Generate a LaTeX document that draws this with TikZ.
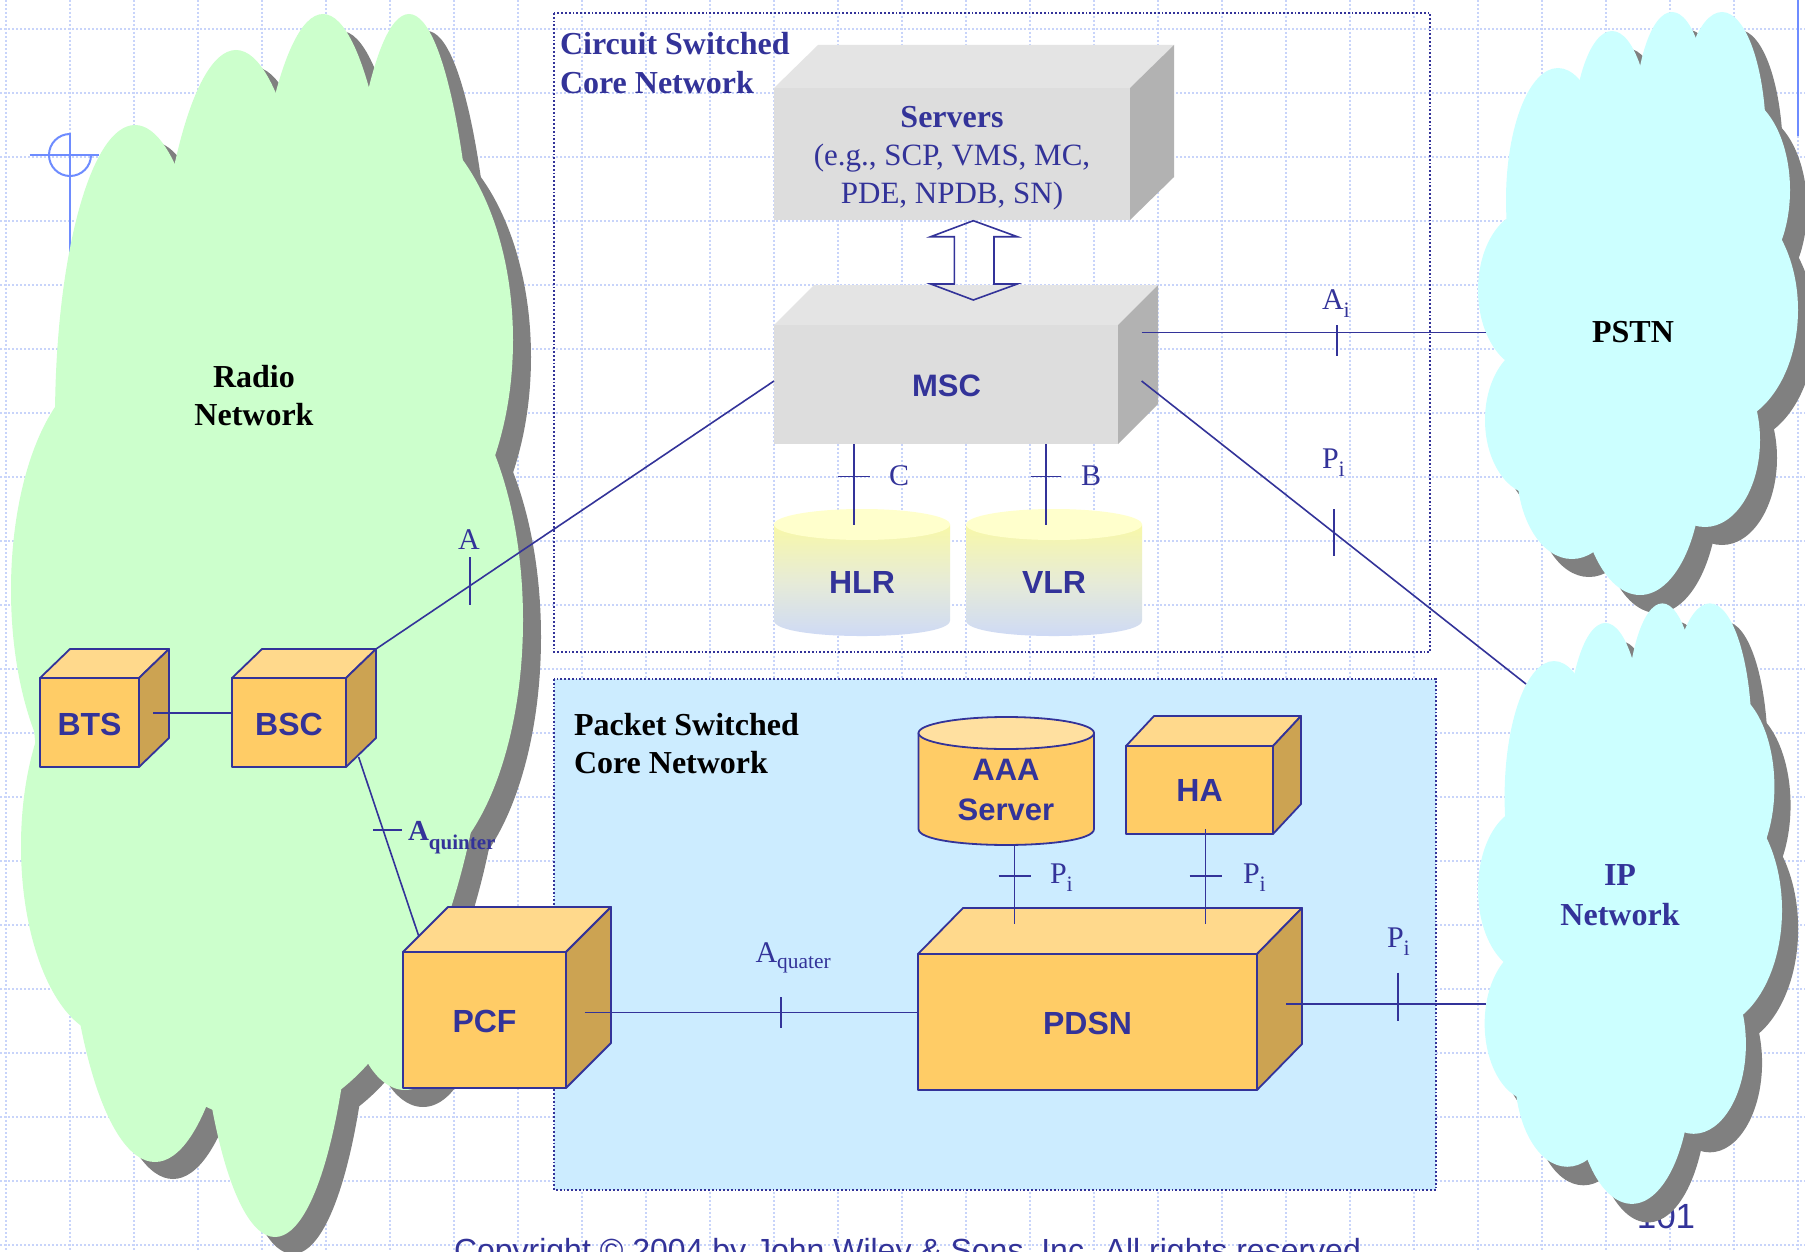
\documentclass[tikz,border=0pt]{standalone}
\usepackage{fontspec}
\setmainfont{Liberation Serif}
\newfontfamily\arialf{Liberation Sans}
\definecolor{dblue}{HTML}{333399}
\definecolor{gridc}{RGB}{200,212,250}
\definecolor{tmpl}{RGB}{110,140,255}
\definecolor{cgreen}{HTML}{CCFFCC}
\definecolor{ccyan}{HTML}{CCFFFF}
\definecolor{shgray}{HTML}{808080}
\definecolor{pkfill}{HTML}{CCECFF}
\definecolor{orfront}{HTML}{FFCC66}
\definecolor{ortop}{HTML}{FFD98C}
\definecolor{orside}{HTML}{CCA352}
\definecolor{grfront}{HTML}{DDDDDD}
\definecolor{grtop}{HTML}{E4E4E4}
\definecolor{grside}{HTML}{B2B2B2}
\definecolor{cyltop}{HTML}{FFFFCC}
\definecolor{cylyel}{HTML}{F8F8A8}
\definecolor{cylmid}{HTML}{E6EBD8}
\definecolor{cylblu}{HTML}{CCD8F8}
\definecolor{aaatop}{HTML}{FFE0A0}
\newcommand\mysub[1]{\raisebox{-4pt}{\fontsize{11}{12}\selectfont #1}}
\newcommand\mycube[8]{%
 \filldraw[#8, fill=#7top] (#1,#2) -- ({#1+#5},{#2+#6}) -- ({#3+#5},{#2+#6}) -- (#3,#2) -- cycle;
 \filldraw[#8, fill=#7side] (#3,#2) -- ({#3+#5},{#2+#6}) -- ({#3+#5},{#4+#6}) -- (#3,#4) -- cycle;
 \filldraw[#8, fill=#7front] (#1,#2) rectangle (#3,#4);}
\newcommand\greenblobs[1]{%
 \fill[#1] (135,420) ellipse (80 and 295);
 \fill[#1] (236,420) ellipse (85 and 370);
 \fill[#1] (323,420) ellipse (80 and 406);
 \fill[#1] (409,420) ellipse (70 and 406);
 \fill[#1] (380,340) ellipse (133 and 230);
 \fill[#1] (400,620) ellipse (123 and 260);
 \fill[#1] (405,975) ellipse (58 and 115);
 \fill[#1] (275,900) ellipse (80 and 337);
 \fill[#1] (155,850) ellipse (90 and 312);
 \fill[#1] (110,846) ellipse (89 and 190);
 \fill[#1] (110,590) ellipse (99 and 220);
 \fill[#1] (260,640) ellipse (230 and 480);}
\newcommand\pstnblobs[1]{%
 \fill[#1] (1558,200) ellipse (52 and 132);
 \fill[#1] (1612,150) ellipse (40 and 119);
 \fill[#1] (1672,130) ellipse (38 and 118);
 \fill[#1] (1722,140) ellipse (44 and 128);
 \fill[#1] (1735,190) ellipse (55 and 95);
 \fill[#1] (1720,310) ellipse (78 and 115);
 \fill[#1] (1705,440) ellipse (55 and 87);
 \fill[#1] (1640,470) ellipse (62 and 125);
 \fill[#1] (1572,470) ellipse (55 and 89);
 \fill[#1] (1535,420) ellipse (50 and 75);
 \fill[#1] (1530,290) ellipse (52 and 80);
 \fill[#1] (1640,300) ellipse (120 and 220);}
\begin{document}
\begin{tikzpicture}[x=0.5pt,y=-0.5pt,
  gridline/.style={draw=gridc, line width=0.6pt, dash pattern=on 1.2pt off 0.8pt},
  conn/.style={draw=dblue, line width=0.8pt},
  boxline/.style={draw=dblue, line width=0.9pt, line join=round},
  nobox/.style={draw=none},
  lbl/.style={inner sep=0pt, outer sep=0pt},
  boxtxt/.style={lbl, anchor=base, text=dblue, font=\arialf\bfseries\fontsize{16}{19}\selectfont},
  ttl/.style={lbl, font=\bfseries\fontsize{16}{19}\selectfont},
  ifc/.style={lbl, anchor=base west, text=dblue, font=\fontsize{15}{18}\selectfont},
  tmplline/.style={draw=tmpl, line width=1pt}
]
\useasboundingbox (0,0) rectangle (1805,1252);
\clip (0,0) rectangle (1805,1252);
\fill[white] (0,0) rectangle (1805,1252);
% grid
\foreach \i in {0,...,28} \draw[gridline] ({6+64*\i},0) -- ({6+64*\i},1252);
\foreach \j in {0,...,19} \draw[gridline] (0,{29+64*\j}) -- (1805,{29+64*\j});
% template marks
\draw[tmplline] (29.5,155) -- (99,155);
\draw[tmplline] (70,133) -- (70,400);
\draw[tmplline] (70,134) .. controls (58.4,134) and (49,143.4) .. (49,155)
  .. controls (49,166.6) and (58.4,176) .. (70,176)
  .. controls (81.6,176) and (91,166.6) .. (91,155);
\draw[tmplline] (1798,0) -- (1798,136);
% core network frames
\filldraw[fill=pkfill, draw=dblue, line width=0.9pt, densely dotted] (554,679) rectangle (1436,1190);
\draw[draw=dblue, line width=0.9pt, densely dotted] (554,13) rectangle (1430,652);
% footer
\node[lbl, anchor=base west, text=dblue, font=\arialf\fontsize{16}{19}\selectfont] (copy) at (454,1261) {Copyright \textcopyright{} 2004 by John Wiley \& Sons, Inc. All rights reserved.};
\node[lbl, anchor=base, text=dblue, font=\arialf\fontsize{17.5}{20}\selectfont] (pnum) at (1666,1228) {101};
% clouds
\begin{scope}[shift={(18,17)}] \greenblobs{shgray} \end{scope}
\greenblobs{cgreen}
\begin{scope}[shift={(17,18)}] \pstnblobs{shgray} \end{scope}
\pstnblobs{ccyan}
\begin{scope}[shift={(1478,900)}, xscale=0.95, yscale=1.03, shift={(-1478,-300)}]
  \begin{scope}[shift={(17,18)}] \pstnblobs{shgray} \end{scope}
  \pstnblobs{ccyan}
\end{scope}
\node[ttl, anchor=base] (radio1) at (254,387) {Radio};
\node[ttl, anchor=base] (radio2) at (254,425) {Network};
\node[ttl, anchor=base] (pstn) at (1633,342) {PSTN};
\node[ttl, anchor=base, text=dblue] (ip1) at (1620,885) {IP};
\node[ttl, anchor=base, text=dblue] (ip2) at (1620,925) {Network};
% frame titles
\node[ttl, anchor=base west, text=dblue] (cs1) at (560,55) {Circuit Switched};
\node[ttl, anchor=base west, text=dblue] (cs2) at (560,94) {Core Network};
\node[ttl, anchor=base west] (ps1) at (574,735.5) {Packet Switched};
\node[ttl, anchor=base west] (ps2) at (574,773) {Core Network};
% grey boxes
\mycube{774}{88}{1130}{220}{44}{-43}{gr}{nobox}
\mycube{774}{325}{1118}{444}{40}{-40}{gr}{nobox}
% HLR / VLR
\shade[top color=cylyel, bottom color=cylblu, middle color=cylmid] (774,524.5) -- (774,620.5) .. controls (774,641.2) and (950,641.2) .. (950,620.5) -- (950,524.5) -- cycle;
\fill[cyltop] (862,524.5) ellipse (88 and 15.5);
\shade[top color=cylyel, bottom color=cylblu, middle color=cylmid] (966,524.5) -- (966,620.5) .. controls (966,641.2) and (1142,641.2) .. (1142,620.5) -- (1142,524.5) -- cycle;
\fill[cyltop] (1054,524.5) ellipse (88 and 15.5);
% orange boxes
\mycube{40}{678}{139}{767}{30}{-29}{or}{boxline}
\mycube{232}{678}{346}{767}{30}{-29}{or}{boxline}
\mycube{403}{952}{566}{1088}{45}{-45}{or}{boxline}
\mycube{918}{954}{1257}{1090}{45}{-46}{or}{boxline}
\mycube{1126}{746}{1273}{834}{28}{-30}{or}{boxline}
% AAA cylinder
\filldraw[boxline, fill=orfront] (918.5,733) -- (918.5,829) .. controls (918.5,850.3) and (1094,850.3) .. (1094,829) -- (1094,733) -- cycle;
\filldraw[boxline, fill=aaatop] (1006.25,733) ellipse (87.75 and 16);
% double arrow servers <-> MSC
\coordinate (arrTop) at (973.3,220.7);
\coordinate (arrBot) at (973.3,300);
\draw[conn, line join=miter] (arrTop) -- ++(44,16) -- ++(-23.3,0) -- ++(0,47.3) -- ++(23.3,0) -- (arrBot)
  -- ++(-42.6,-16) -- ++(23.6,0) -- ++(0,-47.3) -- ++(-23.6,0) -- cycle;
% box texts
\node[boxtxt] (srv1) at (952,127) {\fontspec{Liberation Serif}\bfseries Servers};
\node[lbl, anchor=base, text=dblue, font=\fontsize{15.5}{18}\selectfont] (srv2) at (952,166) {(e.g., SCP, VMS, MC,};
\node[lbl, anchor=base, text=dblue, font=\fontsize{15.5}{18}\selectfont] (srv3) at (952,204) {PDE, NPDB, SN)};
\node[boxtxt, font=\arialf\bfseries\fontsize{15.5}{18}\selectfont] (msc) at (946.5,396.5) {MSC};
\node[boxtxt] (hlr) at (862,593.4) {HLR};
\node[boxtxt] (vlr) at (1054,593.4) {VLR};
\node[boxtxt] (bts) at (89.5,735) {BTS};
\node[boxtxt] (bsc) at (289,735) {BSC};
\node[boxtxt] (pcf) at (484.5,1032) {PCF};
\node[boxtxt] (pdsn) at (1087.5,1034) {PDSN};
\node[boxtxt] (ha) at (1199.5,801.6) {HA};
\node[boxtxt, font=\arialf\bfseries\fontsize{15.5}{18}\selectfont] (aaa1) at (1006,780) {AAA};
\node[boxtxt, font=\arialf\bfseries\fontsize{15.5}{18}\selectfont] (aaa2) at (1006,820) {Server};
% connector end points
\coordinate (btsR) at (153,713);
\coordinate (bscL) at (232,713);
\coordinate (bscTR) at (376,649);
\coordinate (mscL) at (774,381);
\coordinate (bscR) at (358.6,757);
\coordinate (pcfT) at (418.7,936);
\coordinate (pcfR) at (584.6,1012.5);
\coordinate (pdsnL) at (918,1012.5);
\coordinate (mscB1) at (854,444);
\coordinate (hlrT) at (854,524.5);
\coordinate (mscB2) at (1046,444);
\coordinate (vlrT) at (1046,524.5);
\coordinate (mscR1) at (1141.6,332.5);
\coordinate (pstnL) at (1486,332.5);
\coordinate (mscR2) at (1141.6,381);
\coordinate (ipL) at (1526,684);
\coordinate (aaaB) at (1014.6,845);
\coordinate (pdsnT1) at (1014.6,924);
\coordinate (haB) at (1205.6,829);
\coordinate (pdsnT2) at (1205.6,924);
\coordinate (pdsnR) at (1286,1004);
\coordinate (ipL2) at (1486,1004);
% connectors
\draw[conn] (btsR) -- (bscL);
\draw[conn] (bscTR) -- (mscL);
\draw[conn] (bscR) -- (pcfT);
\draw[conn] (pcfR) -- (pdsnL);
\draw[conn] (mscB1) -- (hlrT);
\draw[conn] (mscB2) -- (vlrT);
\draw[conn] (mscR1) -- (pstnL);
\draw[conn] (mscR2) -- (ipL);
\draw[conn] (aaaB) -- (pdsnT1);
\draw[conn] (haB) -- (pdsnT2);
\draw[conn] (pdsnR) -- (ipL2);
% interface ticks
\coordinate (tA) at (470,581);
\coordinate (tAqn) at (387.5,830);
\coordinate (tAqt) at (780.7,1012.5);
\coordinate (tC) at (854,476.5);
\coordinate (tB) at (1046,476.5);
\coordinate (tAi) at (1337,340.5);
\coordinate (tPi1) at (1334,532.5);
\coordinate (tPi2) at (1014.6,876);
\coordinate (tPi3) at (1205.6,876);
\coordinate (tPi4) at (1398,996.5);
\draw[conn] (tA) ++(0,-24) -- ++(0,48);
\draw[conn] (tAqn) ++(-14.5,0) -- ++(29,0);
\draw[conn] (tAqt) ++(0,-15.5) -- ++(0,31);
\draw[conn] (tC) ++(-16,0) -- ++(32,0);
\draw[conn] (tB) ++(-15,0) -- ++(30,0);
\draw[conn] (tAi) ++(0,-15.5) -- ++(0,31);
\draw[conn] (tPi1) ++(0,-23.5) -- ++(0,47);
\draw[conn] (tPi2) ++(-16,0) -- ++(32,0);
\draw[conn] (tPi3) ++(-16,0) -- ++(32,0);
\draw[conn] (tPi4) ++(0,-24) -- ++(0,48);
% interface labels
\node[ifc] (lA) at (458,549) {A};
\node[ifc, font=\bfseries\fontsize{14.5}{17}\selectfont] (lAqn) at (408,840) {A\raisebox{-4.5pt}{\fontsize{10.5}{12}\selectfont quinter}};
\node[ifc] (lAqt) at (755.5,962) {A\raisebox{-3.3pt}{\fontsize{10.7}{12}\selectfont quater}};
\node[ifc] (lC) at (889,485) {C};
\node[ifc] (lB) at (1081,485) {B};
\node[ifc] (lAi) at (1322,309) {A\mysub{i}};
\node[ifc] (lPi1) at (1322,468) {P\mysub{i}};
\node[ifc] (lPi2) at (1050,883) {P\mysub{i}};
\node[ifc] (lPi3) at (1243,883) {P\mysub{i}};
\node[ifc] (lPi4) at (1387,947) {P\mysub{i}};
\end{tikzpicture}
\end{document}
